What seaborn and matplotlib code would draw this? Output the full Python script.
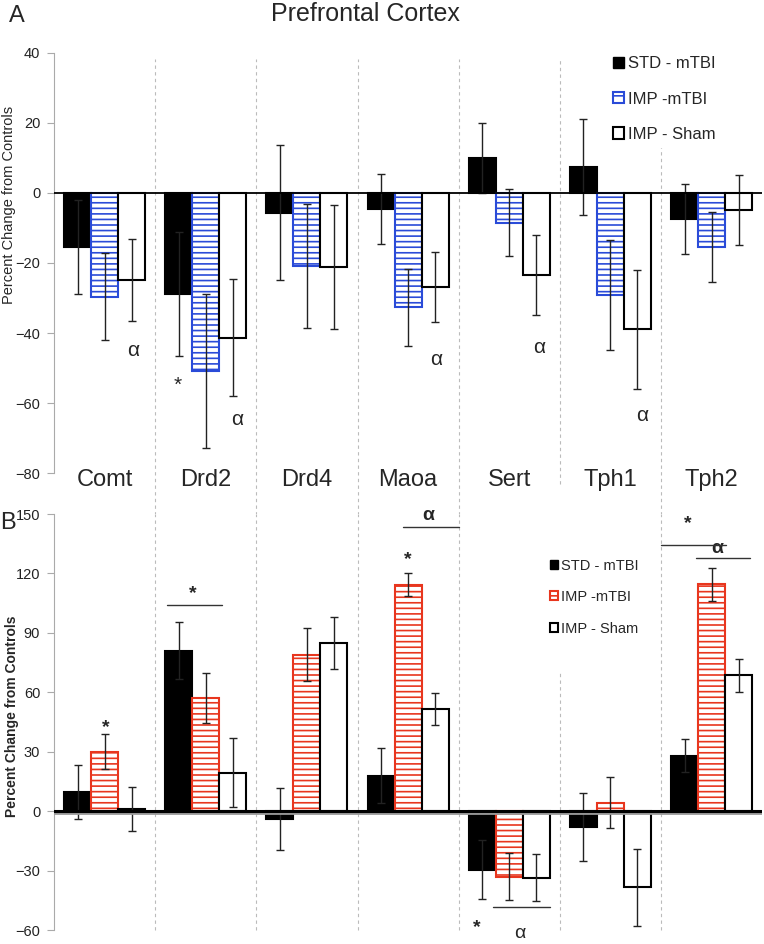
import numpy as np
import pandas as pd
import seaborn as sns
import matplotlib.pyplot as plt
from matplotlib.patches import Patch

# Data (percent change from controls)
genes = ['Comt', 'Drd2', 'Drd4', 'Maoa', 'Sert', 'Tph1', 'Tph2']
groups = ['STD - mTBI', 'IMP -mTBI', 'IMP - Sham']

top_std = [-15.4, -28.9, -5.6, -4.5, 10.0, 7.3, -7.5]
top_std_err = [13.5, 17.7, 19.2, 10.0, 10.0, 13.7, 10.0]
top_imp = [-29.6, -50.9, -20.8, -32.6, -8.5, -29.1, -15.5]
top_imp_err = [12.5, 22.0, 17.7, 11.0, 9.5, 15.8, 10.0]
top_sham = [-24.9, -41.4, -21.2, -26.8, -23.4, -38.9, -4.8]
top_sham_err = [11.7, 16.7, 17.7, 10.0, 11.5, 17.0, 10.0]

bot_std = [9.6, 81.0, -4.0, 18.0, -29.5, -8.0, 28.0]
bot_std_err = [13.7, 14.5, 15.6, 14.0, 15.0, 17.0, 8.4]
bot_imp = [30.0, 57.0, 79.0, 114.3, -33.0, 4.3, 114.5]
bot_imp_err = [8.7, 12.7, 13.5, 5.7, 12.0, 12.8, 8.2]
bot_sham = [1.2, 19.5, 85.0, 51.6, -33.5, -38.5, 68.5]
bot_sham_err = [11.0, 17.2, 13.0, 8.3, 12.0, 19.3, 8.2]

top_ticks = [-80, -60, -40, -20, 0, 20, 40]
bot_ticks = [-60, -30, 0, 30, 60, 90, 120, 150]

sns.set_style('white')
plt.rcParams['font.family'] = ['Liberation Sans', 'DejaVu Sans']
plt.rcParams['hatch.linewidth'] = 1.2

BLUE = '#2a4bd8'
RED = '#e8361e'


def long_frame(a, b, c):
    rows = []
    for vals, g in zip([a, b, c], groups):
        for gene, v in zip(genes, vals):
            rows.append({'gene': gene, 'group': g, 'value': v})
    return pd.DataFrame(rows)


def draw_panel(ax, vals, errs, accent, ylim, ticks):
    df = long_frame(*vals)
    sns.barplot(data=df, x='gene', y='value', hue='group', order=genes,
                hue_order=groups, errorbar=None, width=0.8, saturation=1,
                palette=['black', 'white', 'white'], legend=False, ax=ax,
                zorder=3)
    styles = [dict(fc='black', ec='black', hatch=None),
              dict(fc='white', ec=accent, hatch='---'),
              dict(fc='white', ec='black', hatch=None)]
    for cont, st, v, e in zip(ax.containers, styles, vals, errs):
        xs = []
        for bar in cont:
            bar.set_facecolor(st['fc'])
            bar.set_edgecolor(st['ec'])
            bar.set_linewidth(1.5)
            if st['hatch']:
                bar.set_hatch(st['hatch'])
            xs.append(bar.get_x() + bar.get_width() / 2)
        ax.errorbar(xs, v, yerr=e, fmt='none', ecolor='#222222',
                    elinewidth=1, capsize=3, capthick=1, zorder=4)
    ax.set_xlim(-0.5, 6.5)
    ax.set_ylim(*ylim)
    ax.set_yticks(ticks)
    ax.set_xlabel('')
    ax.tick_params(axis='x', bottom=False, labelbottom=False)
    ax.tick_params(axis='y', left=True, length=5, pad=5, color='#aaaaaa',
                   labelsize=10.5, labelcolor='#222222')
    for s in ['top', 'right', 'bottom']:
        ax.spines[s].set_visible(False)
    ax.spines['left'].set_color('#aaaaaa')
    ax.spines['left'].set_linewidth(0.8)


fig = plt.figure(figsize=(7.64, 9.44), dpi=100)
ax1 = fig.add_axes([0.0707, 0.4989, 0.927, 0.445])
ax2 = fig.add_axes([0.0707, 0.0148, 0.927, 0.4407])

draw_panel(ax1, [top_std, top_imp, top_sham],
           [top_std_err, top_imp_err, top_sham_err], BLUE, (-80, 40), top_ticks)
draw_panel(ax2, [bot_std, bot_imp, bot_sham],
           [bot_std_err, bot_imp_err, bot_sham_err], RED, (-60, 150), bot_ticks)

# zero lines
ax1.axhline(0, color='black', lw=1.3, zorder=5)
ax2.axhline(-0.8, color='#999999', lw=2.0, zorder=4.9)
ax2.axhline(0, color='black', lw=2.2, zorder=5)

# group dividers
for i in range(6):
    x = i + 0.5
    ymin_top = -0.1 if i != 4 else -0.025
    ymax_top = 0.985 if i != 5 else 0.786
    ax1.axvline(x, ymin=ymin_top, ymax=ymax_top, color='#bbbbbb', lw=0.8,
                ls=(0, (3, 3)), clip_on=False, zorder=1)
    ymax_bot = 1.0 if i != 4 else 0.617
    ax2.axvline(x, ymin=0.0, ymax=ymax_bot, color='#bbbbbb', lw=0.8,
                ls=(0, (3, 3)), clip_on=False, zorder=1)

# category labels between the panels
for i, g in enumerate(genes):
    ax1.text(i, -82, g, ha='center', va='center', fontsize=17, clip_on=False)

# y labels
ax1.set_ylabel('Percent Change from Controls', fontsize=10.5)
ax1.yaxis.set_label_coords(-0.054, 0.638)
ax2.set_ylabel('Percent Change from Controls', fontsize=10, fontweight='bold')
ax2.yaxis.set_label_coords(-0.05, 0.514)

# significance marks, top panel
top_marks = [('α', 0.28, -45), ('*', 0.72, -55), ('α', 1.31, -64.6),
             ('α', 3.28, -47.5), ('α', 4.30, -44), ('α', 5.31, -63.7)]
for t, x, y in top_marks:
    ax1.text(x, y, t, ha='center', va='center', fontsize=15)

# significance marks, bottom panel
bot_marks = [('*', 0.01, 42, 'bold'), ('*', 0.87, 110, 'bold'),
             ('α', 3.2, 149, 'bold'), ('*', 3.0, 127, 'bold'),
             ('*', 5.76, 145, 'bold'), ('α', 6.06, 132.5, 'bold'),
             ('*', 3.68, -59, 'bold'), ('α', 4.1, -61.5, 'normal')]
for t, x, y, w in bot_marks:
    ax2.text(x, y, t, ha='center', va='center', fontsize=14, fontweight=w,
             clip_on=False)
bot_lines = [(0.62, 1.16, 104), (2.95, 3.5, 143.5), (5.5, 6.14, 134.5),
             (5.85, 6.38, 128), (3.84, 4.4, -48.5)]
for x0, x1, y in bot_lines:
    ax2.plot([x0, x1], [y, y], color='#333333', lw=1, zorder=6)

# legends
def handles(accent):
    return [Patch(facecolor='black', edgecolor='black'),
            Patch(facecolor='white', edgecolor=accent, hatch='--', lw=1.5),
            Patch(facecolor='white', edgecolor='black', lw=1.5)]

leg1 = ax1.legend(handles(BLUE), groups, loc='upper left',
                  bbox_to_anchor=(0.77, 1.024), fontsize=12, frameon=True,
                  fancybox=False, edgecolor='white', framealpha=1,
                  handlelength=0.65, handleheight=0.65, handletextpad=0.25,
                  labelspacing=1.22, borderpad=0.3)
leg1.set_zorder(10)
leg2 = ax2.legend(handles(RED), groups, loc='upper left',
                  bbox_to_anchor=(0.684, 0.921), fontsize=10.5, frameon=True,
                  fancybox=False, edgecolor='white', framealpha=1,
                  handlelength=0.55, handleheight=0.55, handletextpad=0.2,
                  labelspacing=1.2, borderpad=0.3)
leg2.set_zorder(10)

# title and panel letters
fig.text(0.478, 0.985, 'Prefrontal Cortex', ha='center', va='center', fontsize=18)
fig.text(0.012, 0.983, 'A', ha='left', va='center', fontsize=17)
fig.text(0.0, 0.446, 'B', ha='left', va='center', fontsize=17)

fig.savefig('out.png', dpi=100)
